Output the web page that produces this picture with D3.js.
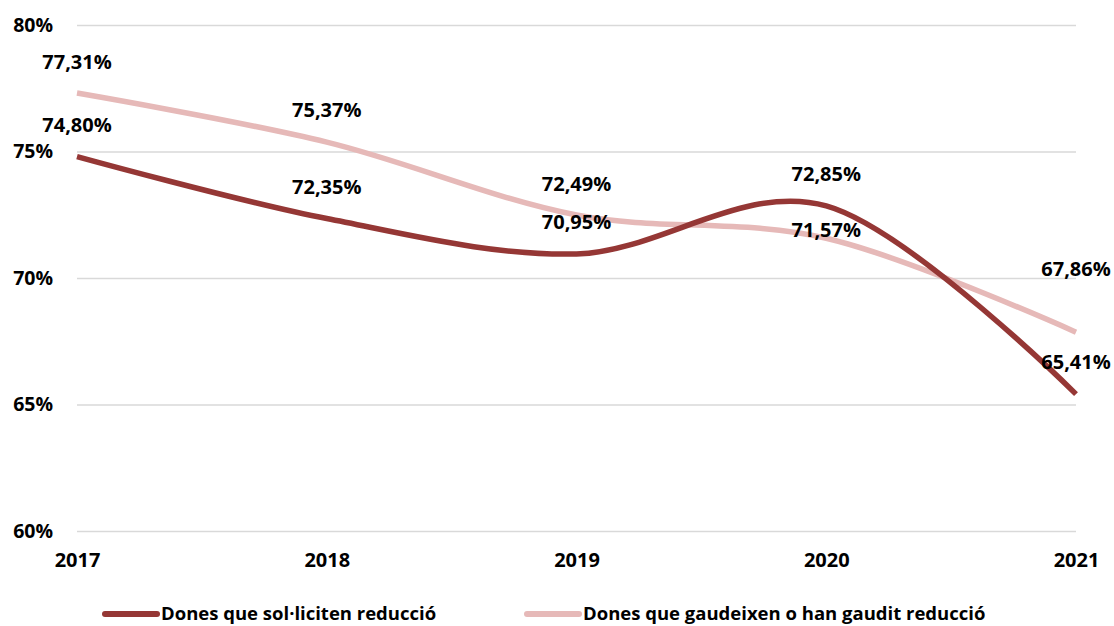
<!DOCTYPE html>
<html>
<head>
<meta charset="utf-8">
<script src="https://cdn.jsdelivr.net/npm/d3@7"></script>
<style>
  body { margin: 0; background: #fff; }
  svg text { font-family: "Open Sans", sans-serif; font-weight: bold; fill: #000; }
</style>
</head>
<body>
<div id="chart"></div>
<script>
(function () {
  // Dades
  const years = ['2017', '2018', '2019', '2020', '2021']
  const sollicitenValues = [74.80, 72.35, 70.95, 72.85, 65.41]
  const gaudeixenValues = [77.31, 75.37, 72.49, 71.57, 67.86]
  const yTicks = [60, 65, 70, 75, 80]
  const seriesNames = ['Dones que sol·liciten reducció', 'Dones que gaudeixen o han gaudit reducció']

  // desplaçament vertical de les etiquetes (px sobre el punt)
  const labelShift = [
    [32, 32, 32, 32, 32],
    [31, 32, 31, 8, 63]
  ]

  const WIDTH = 1114
  const HEIGHT = 626
  const MARGIN = { TOP: 25, BOTTOM: 95, LEFT: 77, RIGHT: 38 }

  const svg = d3.select('#chart').append('svg')
    .attr('width', WIDTH)
    .attr('height', HEIGHT)

  const x = d3.scalePoint()
    .domain(years)
    .range([MARGIN.LEFT, WIDTH - MARGIN.RIGHT])

  const y = d3.scaleLinear()
    .domain([60, 80])
    .range([HEIGHT - MARGIN.BOTTOM, MARGIN.TOP])

  // gridlines + etiquetes eix Y
  const yAxis = svg.append('g')
    .attr('transform', `translate(${MARGIN.LEFT}, 0)`)
    .call(d3.axisLeft(y).tickValues(yTicks)
      .tickSize(-(WIDTH - MARGIN.LEFT - MARGIN.RIGHT))
      .tickPadding(24)
      .tickFormat(d => d + '%'))
  yAxis.select('.domain').remove()
  yAxis.selectAll('line').attr('stroke', '#d9d9d9').attr('stroke-width', 1.5)
  yAxis.selectAll('text').style('font-size', '19.5px')

  // eix X
  const xAxis = svg.append('g')
    .attr('transform', `translate(0, ${HEIGHT - MARGIN.BOTTOM})`)
    .call(d3.axisBottom(x).tickSize(0).tickPadding(22))
  xAxis.select('.domain').remove()
  xAxis.selectAll('text').style('font-size', '20px')

  const series = [
    { name: seriesNames[0], values: sollicitenValues, color: '#953735' },
    { name: seriesNames[1], values: gaudeixenValues, color: '#e6b9b8' }
  ]

  const line = d3.line()
    .x((d, i) => x(years[i]))
    .y(d => y(d))
    .curve(d3.curveCardinal.tension(0))

  // la clara queda sota la fosca
  svg.append('g').selectAll('path')
    .data(series.slice().reverse())
    .enter()
    .append('path')
    .attr('d', d => line(d.values))
    .style('fill', 'none')
    .style('stroke', d => d.color)
    .style('stroke-width', '5.5px')

  // etiquetes de dades
  series.forEach((s, si) => {
    svg.append('g').selectAll('text')
      .data(s.values)
      .enter()
      .append('text')
      .attr('x', (d, i) => x(years[i]))
      .attr('y', (d, i) => y(d) - labelShift[si][i])
      .attr('dy', '0.35em')
      .attr('text-anchor', 'middle')
      .style('font-size', '20px')
      .text(d => d.toFixed(2).replace('.', ',') + '%')
  })

  // llegenda
  const legendPos = [105, 527]
  const legend = svg.append('g')
  series.forEach((s, si) => {
    const g = legend.append('g')
      .attr('transform', `translate(${legendPos[si]}, 614)`)
    g.append('line')
      .attr('x1', 0).attr('x2', 52)
      .attr('stroke', s.color)
      .attr('stroke-width', 6)
      .attr('stroke-linecap', 'round')
    g.append('text')
      .attr('x', 56)
      .attr('dy', '0.35em')
      .style('font-size', '18.5px')
      .text(s.name)
  })
})()
</script>
</body>
</html>
